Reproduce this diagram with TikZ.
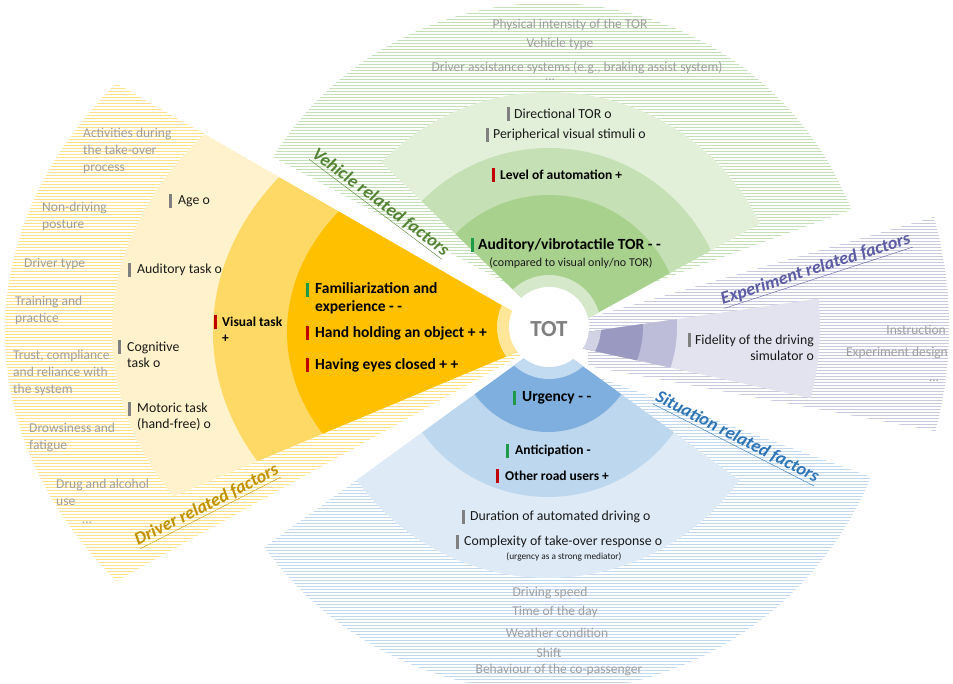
\documentclass[tikz,border=0pt]{standalone}
\usepackage{fontspec}
\setmainfont{Carlito}
\usetikzlibrary{patterns}

\definecolor{drvdark}{HTML}{FFC000}
\definecolor{drvmid}{HTML}{FFD966}
\definecolor{drvlight}{HTML}{FFF2CC}
\definecolor{drvring}{HTML}{FFE699}
\definecolor{drvhatch}{HTML}{FFE28A}
\definecolor{drvlabel}{HTML}{BF9000}
\definecolor{vehdark}{HTML}{A9D18E}
\definecolor{vehmid}{HTML}{C5E0B4}
\definecolor{vehlight}{HTML}{E2F0D9}
\definecolor{vehring}{HTML}{D5E8CA}
\definecolor{vehhatch}{HTML}{C5E0B4}
\definecolor{vehlabel}{HTML}{548235}
\definecolor{expdark}{HTML}{9999C2}
\definecolor{expmid}{HTML}{BDBDD9}
\definecolor{explight}{HTML}{E3E3EF}
\definecolor{expring}{HTML}{D2D2E5}
\definecolor{exphatch}{HTML}{C8C8DE}
\definecolor{explabel}{HTML}{5C5CA3}
\definecolor{sitdark}{HTML}{7FAFDF}
\definecolor{sitmid}{HTML}{BDD7EE}
\definecolor{sitlight}{HTML}{DEEBF7}
\definecolor{sitring}{HTML}{C3DBF1}
\definecolor{sithatch}{HTML}{C2D9F0}
\definecolor{sitlabel}{HTML}{2E75B6}
\definecolor{hintgray}{HTML}{9E9E9E}
\definecolor{totgray}{HTML}{7F7F7F}
\definecolor{markgreen}{HTML}{1E9A48}
\definecolor{markred}{HTML}{C00000}
\definecolor{markgray}{HTML}{808080}

\pgfdeclarepatternformonly{hatchlines}{\pgfpoint{-1pt}{-1pt}}{\pgfpoint{4pt}{4pt}}{\pgfpoint{3pt}{3pt}}{%
  \pgfsetlinewidth{0.8pt}
  \pgfpathmoveto{\pgfpoint{-1pt}{1.5pt}}
  \pgfpathlineto{\pgfpoint{4pt}{1.5pt}}
  \pgfusepath{stroke}}

\tikzset{
  hint/.style={text=hintgray, inner sep=0pt, font=\fontsize{13.5}{17}\selectfont},
  factor/.style={text=black!90, inner sep=0pt, font=\fontsize{13.8}{16.2}\selectfont},
  midfactor/.style={text=black, inner sep=0pt, font=\bfseries\fontsize{13.5}{16}\selectfont},
  keyfactor/.style={text=black, inner sep=0pt, font=\bfseries\fontsize{15.5}{18}\selectfont},
  note/.style={text=black!90, inner sep=0pt, font=\fontsize{12}{13}\selectfont},
  group/.style={inner sep=0pt, font=\bfseries\itshape\fontsize{18}{21}\selectfont},
  tot/.style={text=totgray, inner sep=0pt, font=\bfseries\fontsize{23}{26}\selectfont}
}

\newcommand{\factormark}[3]{\fill[#1] (#2-1.5,#3-7) rectangle (#2+1.5,#3+7);}

\begin{document}
\begin{tikzpicture}[x=1pt,y=-1pt]
\useasboundingbox (0,0) rectangle (953,684);

% driver
\begin{scope}
  \clip (555,336) -- (-93,-37) -- (-400,300) -- (-36,666) -- cycle;
  \fill[pattern=hatchlines, pattern color=drvhatch] (549,332) ellipse [x radius=544pt, y radius=410pt];
\end{scope}
\begin{scope}
  \clip (555,336) -- (-93,-37) -- (-400,300) -- (-132,625) -- cycle;
  \fill[drvlight] (549,332) ellipse [x radius=437pt, y radius=322pt];
  \fill[drvmid] (549,332) ellipse [x radius=336pt, y radius=260pt];
  \fill[drvdark] (549,332) ellipse [x radius=262pt, y radius=202pt];
  \fill[drvring] (549,327) circle [radius=52pt];
\end{scope}

% vehicle
\begin{scope}
  \clip (565,315) -- (9,14) -- (549,-400) -- (1139,104) -- cycle;
  \fill[pattern=hatchlines, pattern color=vehhatch] (549,327) circle [radius=324pt];
\end{scope}
\begin{scope}
  \clip (559,334) -- (82,-127) -- (549,-300) -- (1116,28) -- cycle;
  \fill[vehlight] (549,327) circle [radius=235pt];
  \fill[vehmid] (549,327) circle [radius=179pt];
  \fill[vehdark] (549,327) circle [radius=132pt];
  \fill[vehring] (549,327) circle [radius=52pt];
\end{scope}

% experiment
\begin{scope}
  \clip (588,318) -- (1250,125) -- (1250,490) -- (588,366) -- cycle;
  \fill[pattern=hatchlines, pattern color=exphatch] (549,327) circle [radius=400pt];
\end{scope}
\begin{scope}
  \clip (539,339) -- (1250,236) -- (1250,494) -- cycle;
  \fill[explight] (549,327) circle [radius=271pt];
  \fill[expmid] (549,327) circle [radius=128pt];
  \fill[expdark] (549,327) circle [radius=94pt];
  \fill[expring] (549,327) circle [radius=52pt];
\end{scope}

% situation
\begin{scope}
  \clip (532,353) -- (-99,811) -- (548,1100) -- (1346,651) -- cycle;
  \fill[pattern=hatchlines, pattern color=sithatch] (548,342) circle [radius=350pt];
\end{scope}
\begin{scope}
  \clip (548,341) -- (-99,811) -- (548,1100) -- (1195,811) -- cycle;
  \fill[sitlight] (548,342) circle [radius=236pt];
  \fill[sitmid] (548,342) circle [radius=155pt];
  \fill[sitdark] (548,342) circle [radius=90pt];
  \fill[sitring] (549,327) circle [radius=52pt];
\end{scope}

\fill[white] (549,327) circle [radius=40pt];
\node[tot] (tot) at (549,329) {TOT};

% driver texts
\node[hint, anchor=west, align=left] (activities) at (83,151) {Activities during\\the take-over\\process};
\node[hint, anchor=west, align=left] (posture) at (42,216) {Non-driving\\posture};
\node[hint, anchor=west] (drivertype) at (24,264) {Driver type};
\node[hint, anchor=west, align=left] (training) at (15,310) {Training and\\practice};
\node[hint, anchor=west, align=left] (trust) at (13,373) {Trust, compliance\\and reliance with\\the system};
\node[hint, anchor=west, align=left] (drowsiness) at (29,437) {Drowsiness and\\fatigue};
\node[hint, anchor=west, align=left] (drug) at (56,492) {Drug and alcohol\\use};
\node[hint] (drvmore) at (87,523) {...};

\factormark{markgray}{170}{201}
\node[factor, anchor=west] (age) at (178,201) {Age o};
\factormark{markgray}{129}{270}
\node[factor, anchor=west] (auditory) at (137,270) {Auditory task o};
\factormark{markgray}{119}{347}
\node[factor, anchor=west, align=left] (cognitive) at (127,355) {Cognitive\\task o};
\factormark{markgray}{129}{409}
\node[factor, anchor=west, align=left] (motoric) at (137,417) {Motoric task\\(hand-free) o};

\factormark{markred}{215}{322}
\node[midfactor, anchor=west, align=left] (visual) at (222,330) {Visual task\\+};

\factormark{markgreen}{307}{290}
\node[keyfactor, anchor=west, align=left] (familiar) at (315,298) {Familiarization and\\experience - -};
\factormark{markred}{307}{333}
\node[keyfactor, anchor=west] (holding) at (315,333) {Hand holding an object + +};
\factormark{markred}{307}{365}
\node[keyfactor, anchor=west] (eyes) at (315,365) {Having eyes closed + +};

\node[group, text=drvlabel, rotate=27] (driver) at (207,506) {\underline{Driver related factors}};

% vehicle texts
\node[hint] (intensity) at (570,25) {Physical intensity of the TOR};
\node[hint] (vehtype) at (560,44) {Vehicle type};
\node[hint] (assist) at (577,68) {Driver assistance systems (e.g., braking assist system)};
\node[hint] (vehmore) at (550,80) {...};

\factormark{markgray}{508}{114}
\node[factor, anchor=west] (directional) at (514,114) {Directional TOR o};
\factormark{markgray}{487}{135}
\node[factor, anchor=west] (peripheral) at (493,135) {Peripherical visual stimuli o};
\factormark{markred}{493}{175}
\node[midfactor, anchor=west] (automation) at (500,175) {Level of automation +};
\factormark{markgreen}{472}{245}
\node[keyfactor, anchor=west] (tor) at (478,245) {Auditory/vibrotactile TOR - -};
\node[note] (compared) at (571,263) {(compared to visual only/no TOR)};

\node[group, text=vehlabel, rotate=-37] (vehicle) at (380,203) {\underline{Vehicle related factors}};

% experiment texts
\factormark{markgray}{689}{340}
\node[factor, anchor=east, align=right] (fidelity) at (814,348) {Fidelity of the driving\\simulator o};
\node[hint, anchor=east] (instruction) at (946,330) {Instruction};
\node[hint, anchor=east] (design) at (948,353) {Experiment design};
\node[hint] (expmore) at (934,381) {...};

\node[group, text=explabel, rotate=18] (experiment) at (816,270) {\underline{Experiment related factors}};

% situation texts
\factormark{markgreen}{514}{398}
\node[keyfactor, anchor=west] (urgency) at (522,398) {Urgency - -};
\factormark{markgreen}{507}{451}
\node[midfactor, anchor=west] (anticipation) at (515,451) {Anticipation -};
\factormark{markred}{497}{476}
\node[midfactor, anchor=west] (roadusers) at (505,476) {Other road users +};
\factormark{markgray}{463}{517}
\node[factor, anchor=west] (duration) at (470,517) {Duration of automated driving o};
\factormark{markgray}{457}{542}
\node[factor, anchor=west] (complexity) at (464,542) {Complexity of take-over response o};
\node[note, font=\fontsize{9.3}{11}\selectfont] (mediator) at (564,557) {(urgency as a strong mediator)};

\node[hint] (speed) at (550,593) {Driving speed};
\node[hint] (daytime) at (555,612) {Time of the day};
\node[hint] (weather) at (557,633) {Weather condition};
\node[hint] (shift) at (549,653) {Shift};
\node[hint] (passenger) at (559,670) {Behaviour of the co-passenger};

\node[group, text=sitlabel, rotate=-27] (situation) at (737,438) {\underline{Situation related factors}};
\end{tikzpicture}
\end{document}
